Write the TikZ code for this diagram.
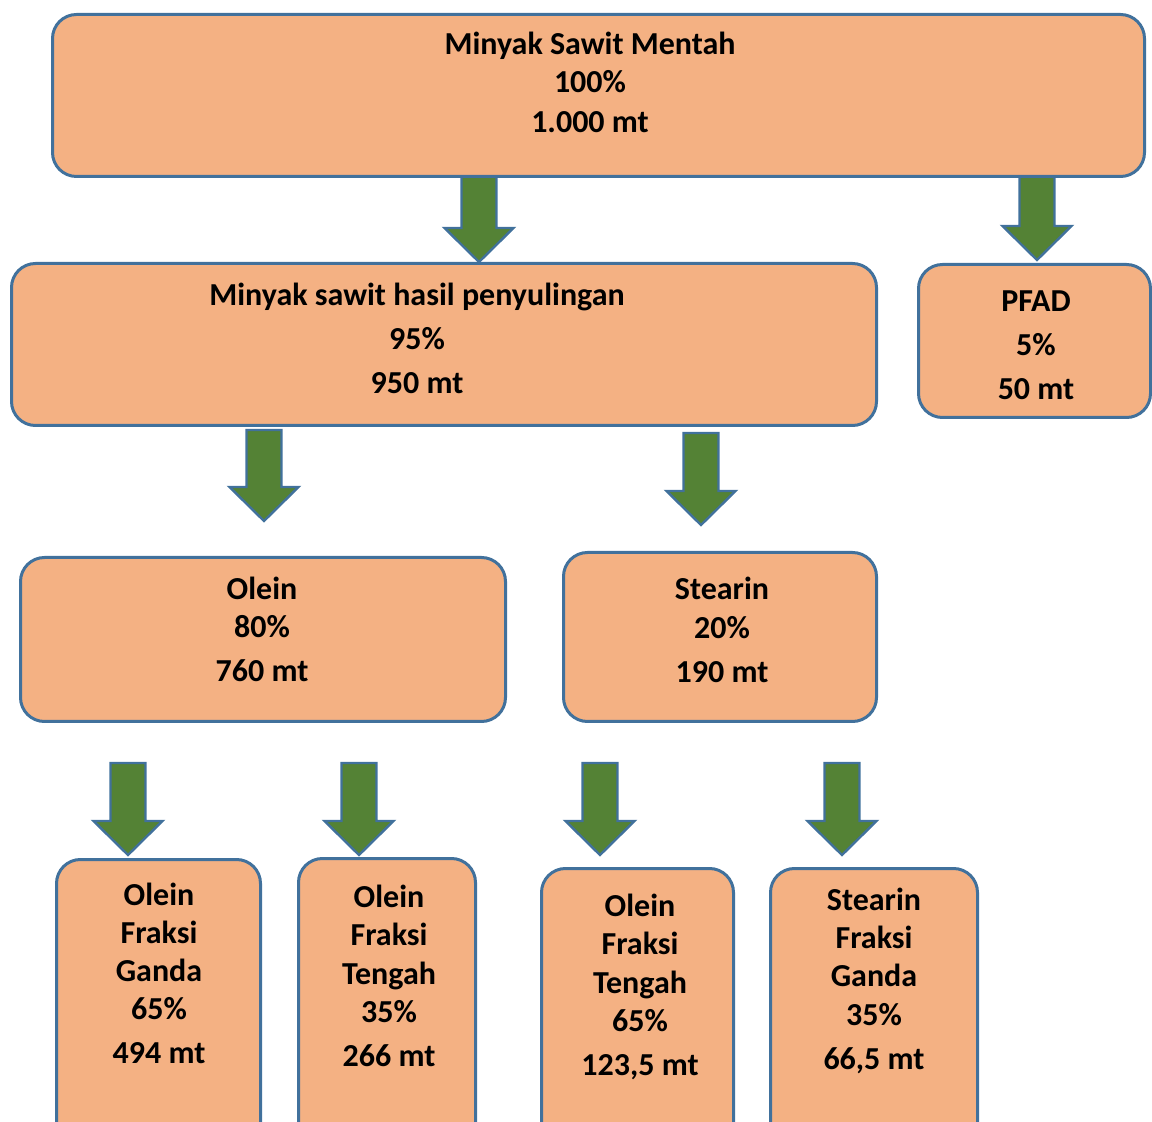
\documentclass[tikz,border=0pt]{standalone}
\usepackage{fontspec}
\setmainfont{Carlito}
\usetikzlibrary{calc}
\definecolor{boxfill}{HTML}{F4B183}
\definecolor{boxblue}{HTML}{41719C}
\definecolor{arrowgreen}{HTML}{548235}
\tikzset{
  box/.style={draw=boxblue, line width=1.5pt, fill=boxfill, rounded corners=12pt,
              inner sep=0pt, anchor=north west},
  lbl/.style={font=\bfseries\fontsize{16}{19}\selectfont, align=center,
              text=black, inner sep=0pt},
  flow/.style={draw=boxblue, line width=1.2pt, fill=arrowgreen, line join=miter},
}
% block arrow pointing down: #1 = top coordinate, #2 = length (px units)
\newcommand\flowarrow[2]{%
  \draw[flow] ($(#1)+(-17.5,0)$) -- ++(35,0) -- ++(0,#2-34) -- ++(17,0)
    -- ($(#1)+(0,#2)$) -- ($(#1)+(-34.5,#2-34)$) -- ++(17,0) -- cycle;}
\begin{document}
\begin{tikzpicture}[x=0.5pt, y=-0.5pt]
  \useasboundingbox (0,0) rectangle (1152,1122);
  \clip (0,0) rectangle (1152,1122);

  % arrow anchors
  \coordinate (a1) at (479,175);
  \coordinate (a2) at (1037,175);
  \coordinate (a3) at (264,430);
  \coordinate (a4) at (701,433);
  \coordinate (a5) at (128,763);
  \coordinate (a6) at (359,763);
  \coordinate (a7) at (600,763);
  \coordinate (a8) at (842,763);
  \flowarrow{a1}{87}
  \flowarrow{a2}{85}
  \flowarrow{a3}{91}
  \flowarrow{a4}{92}
  \flowarrow{a5}{92}
  \flowarrow{a6}{92}
  \flowarrow{a7}{92}
  \flowarrow{a8}{92}

  % boxes
  \node[box, minimum width=546pt, minimum height=81pt] (crude) at (51,13) {};
  \node[box, minimum width=432.5pt, minimum height=81pt] (refined) at (10,262) {};
  \node[box, minimum width=116pt, minimum height=76.5pt] (pfad) at (917,263) {};
  \node[box, minimum width=242.5pt, minimum height=82pt] (olein) at (19,556) {};
  \node[box, minimum width=156.5pt, minimum height=84.5pt] (stearin) at (562,551) {};
  \node[box, minimum width=102pt, minimum height=151pt] (ofg) at (55,858) {};
  \node[box, minimum width=88.5pt, minimum height=151pt] (oft) at (297,857) {};
  \node[box, minimum width=96pt, minimum height=146pt] (oft2) at (540,867) {};
  \node[box, minimum width=103.5pt, minimum height=146pt] (sfg) at (769,867) {};

  % labels
  \node[lbl] (tcrude) at (590,82) {Minyak Sawit Mentah\\100\%\\[1pt]1.000 mt};
  \node[lbl] (trefined) at (417,338.5) {Minyak sawit hasil penyulingan\\[3pt]95\%\\[3pt]950 mt};
  \node[lbl] (tpfad) at (1036,345.5) {PFAD\\[3pt]5\%\\[3pt]50 mt};
  \node[lbl] (tolein) at (262,629) {Olein\\80\%\\[3pt]760 mt};
  \node[lbl] (tstearin) at (722,629.5) {Stearin\\[0.5pt]20\%\\[3pt]190 mt};
  \node[lbl] (tofg) at (159,973) {Olein\\Fraksi\\Ganda\\65\%\\[3pt]494 mt};
  \node[lbl] (toft) at (389,975.5) {Olein\\Fraksi\\[0.5pt]Tengah\\35\%\\[3pt]266 mt};
  \node[lbl] (toft2) at (640,986.5) {Olein\\Fraksi\\[0.5pt]Tengah\\65\%\\[3pt]123,5 mt};
  \node[lbl] (tsfg) at (874,981) {Stearin\\Fraksi\\Ganda\\[0.5pt]35\%\\[3pt]66,5 mt};
\end{tikzpicture}
\end{document}
